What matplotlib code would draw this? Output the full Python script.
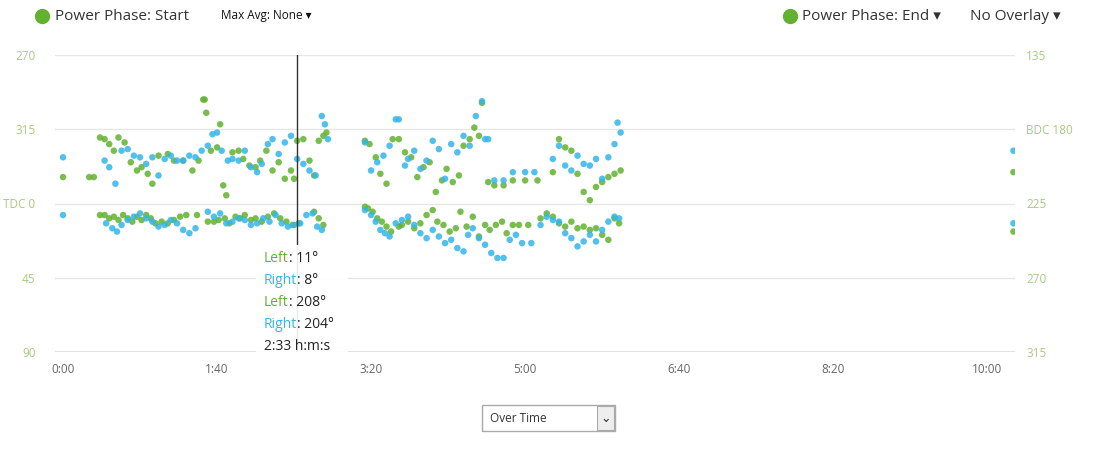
import matplotlib
matplotlib.use("Agg")
import matplotlib.pyplot as plt
from matplotlib.patches import Rectangle
from matplotlib.lines import Line2D

plt.rcParams['font.family'] = ['Open Sans', 'DejaVu Sans']

GREEN = '#62b22f'
BLUE = '#33b5ea'

x_ticks = [0, 100, 200, 300, 400, 500, 600]
x_labels = ['0:00', '1:40', '3:20', '5:00', '6:40', '8:20', '10:00']
left_ticks = [270, 315, 360, 405, 450]
left_labels = ['270', '315', 'TDC 0', '45', '90']
right_labels = ['135', 'BDC 180', '225', '270', '315']

# Power phase start (degrees around TDC)
left_start = [(24,7),(27,7),(30,9),(33,8),(36,10),(39,7),(42,9),(45,11),(48,8),(51,10),(54,7),(57,9),(60,12),(64,11),(68,12),(72,10),(76,8),(80,7),(87,7),(94,11),(98,11),(101,10),(105,9),(108,12),(112,8),(115,9),(118,7),(122,10),(125,9),(129,11),(133,8),(137,6),(141,9),(145,11),(149,13),(153,12),(163,5),(166,9),(169,13),
              (196,2),(198,3),(201,5),(204,9),(207,11),(210,14),(213,17),(218,14),(220,13),(224,11),(228,15),(232,12),(236,7),(240,4),(243,11),(247,13),(251,17),(255,15),(258,5),(262,14),(266,8),(270,20),(274,13),(277,16),(281,13),(285,11),(288,18),(292,13),(296,13),(302,13),(310,9),(314,6),(318,8),(322,12),(326,14),(330,11),(334,15),(338,14),(342,16),(346,15),(350,19),(354,22),(358,9),(361,12),(617,17)]
right_start = [(0,7),(28,12),(32,15),(35,17),(38,13),(42,10),(46,8),(50,6),(54,9),(58,11),(62,14),(66,13),(70,10),(74,12),(78,16),(82,18),(86,15),(94,5),(98,8),(102,6),(106,12),(110,11),(114,9),(118,10),(122,13),(126,12),(130,9),(134,11),(138,7),(142,12),(146,14),(150,13),(154,12),(158,7),(162,6),(165,14),(168,16),
               (196,4),(200,7),(203,11),(206,16),(209,18),(212,20),(216,12),(220,10),(224,8),(228,13),(232,18),(236,21),(240,16),(244,20),(248,24),(252,22),(256,27),(260,29),(263,19),(266,15),(270,21),(274,25),(278,30),(282,33),(286,33),(290,22),(294,19),(298,24),(304,24),(310,13),(314,8),(318,10),(322,11),(326,18),(330,21),(334,26),(338,23),(342,19),(346,23),(350,16),(354,11),(358,8),(361,9),(617,12)]
# Power phase end (degrees, right axis)
left_end = [(0,209),(17,209),(20,209),(24,185),(27,186),(30,189),(33,193),(36,185),(40,188),(44,200),(48,205),(51,203),(55,207),(58,213),(62,196),(68,195),(72,199),(78,199),(84,205),(88,199),(91,162),(92,162),(93,170),(96,193),(100,191),(102,177),(104,214),(106,220),(110,194),(114,193),(117,198),(121,202),(125,203),(128,199),(132,193),(136,205),(140,200),(144,210),(148,205),(150,210),(152,187),(156,186),(160,199),(163,208),(166,187),(169,184),(171,182),
            (196,187),(199,189),(203,197),(206,207),(210,213),(214,186),(218,186),(222,194),(226,197),(230,209),(234,203),(238,200),(242,218),(246,211),(249,204),(253,212),(257,208),(260,190),(264,186),(267,179),(270,184),(272,164),(276,212),(280,214),(286,214),(292,211),(300,211),(308,211),(318,206),(322,186),(326,191),(330,193),(334,207),(338,218),(342,223),(346,215),(350,212),(354,209),(358,207),(362,205),(617,206)]
right_end = [(0,197),(27,199),(30,203),(34,213),(38,193),(42,192),(46,196),(50,197),(54,201),(58,197),(62,208),(66,198),(70,196),(74,199),(78,199),(82,196),(86,197),(90,193),(94,190),(97,183),(100,182),(103,193),(107,199),(110,198),(114,199),(118,193),(122,203),(126,206),(129,201),(133,189),(136,186),(140,195),(144,188),(148,184),(152,198),(156,201),(160,205),(164,208),(168,172),(170,177),(172,186),
             (196,188),(200,205),(204,200),(208,196),(212,190),(216,174),(218,174),(222,202),(224,198),(228,193),(232,204),(236,199),(240,187),(244,192),(248,210),(252,189),(256,194),(260,184),(264,190),(268,172),(272,163),(274,186),(276,186),(280,211),(286,211),(292,206),(300,206),(306,206),(318,198),(322,190),(326,202),(330,205),(334,196),(338,201),(342,202),(346,198),(350,210),(354,197),(358,189),(360,176),(362,182),(617,193)]

cursor_t = 152
tooltip = [('Left', GREEN, '11°'), ('Right', BLUE, '8°'), ('Left', GREEN, '208°'), ('Right', BLUE, '204°')]
tooltip_time = '2:33 h:m:s'

fig = plt.figure(figsize=(11.16, 4.58), dpi=100)
ax = fig.add_axes([55/1116, 1-352/458, 960/1116, 297/458])

def start_y(d):  # left axis: unwrap around TDC
    return 360 + d
def end_y(d):    # right axis offset
    return d + 135

for data, col, f in [(left_start, GREEN, start_y), (right_start, BLUE, start_y),
                     (left_end, GREEN, end_y), (right_end, BLUE, end_y)]:
    ax.scatter([p[0] for p in data], [f(p[1]) for p in data], s=22, color=col,
               alpha=0.85, edgecolors='none', zorder=3)

ax.set_xlim(-5.2, 618)
ax.set_ylim(450, 270)
ax.set_xticks(x_ticks)
ax.set_xticklabels(x_labels, color='#666666', fontsize=8.5)
ax.set_yticks(left_ticks)
ax.set_yticklabels(left_labels, color='#a9c97f', fontsize=8.5)
ax.tick_params(length=0, pad=8)
ax.tick_params(axis='y', pad=14)
ax2 = ax.twinx()
ax2.set_ylim(450, 270)
ax2.set_yticks(left_ticks)
ax2.set_yticklabels(right_labels, color='#a9c97f', fontsize=8.5)
ax2.tick_params(length=0, pad=8)
for a in (ax, ax2):
    for s in a.spines.values():
        s.set_visible(False)
ax.grid(axis='y', color='#e6e6e6', lw=1)
ax.axhline(450, color='#dddddd', lw=1.2)
ax.axvline(cursor_t, color='#333333', lw=1, zorder=4)

# tooltip
fig.patches.append(Rectangle((256/1116, 1-387/458), 92/1116, 142/458, transform=fig.transFigure,
                             facecolor='white', alpha=0.9, edgecolor='none', zorder=5))
for i, (name, col, val) in enumerate(tooltip):
    yy = 1 - (259 + 22*i)/458
    t1 = fig.text(264/1116, yy, name, color=col, fontsize=10, va='center', zorder=6)
    fig.canvas.draw()
    bb = t1.get_window_extent()
    fig.text(bb.x1/1116, yy, ': ' + val, color='#222222', fontsize=10, va='center', zorder=6)
fig.text(264/1116, 1-347/458, tooltip_time, color='#222222', fontsize=10, va='center', zorder=6)

# header
for cx in (42, 790):
    fig.lines.append(Line2D([cx/1116], [1-16/458], marker='o', markersize=10, color=GREEN,
                            transform=fig.transFigure))
fig.text(55/1116, 1-16/458, 'Power Phase: Start', fontsize=11, color='#333333', va='center')
fig.text(221/1116, 1-16/458, 'Max Avg: None ▾', fontsize=8.5, color='#111111', va='center')
fig.text(802/1116, 1-16/458, 'Power Phase: End ▾', fontsize=11, color='#333333', va='center')
fig.text(970/1116, 1-16/458, 'No Overlay ▾', fontsize=11, color='#333333', va='center')

# dropdown
fig.patches.append(Rectangle((482/1116, 1-431/458), 133/1116, 26/458, transform=fig.transFigure,
                             facecolor='white', edgecolor='#aaaaaa', lw=1))
fig.patches.append(Rectangle((597/1116, 1-430/458), 17/1116, 24/458, transform=fig.transFigure,
                             facecolor='#eeeeee', edgecolor='#aaaaaa', lw=0.8))
fig.text(490/1116, 1-418/458, 'Over Time', fontsize=8.5, color='#333333', va='center')
fig.text(605.5/1116, 1-418/458, '⌄', fontsize=9, color='#333333', ha='center', va='center',
         family=['DejaVu Sans'])

fig.savefig('out.png', dpi=100)
